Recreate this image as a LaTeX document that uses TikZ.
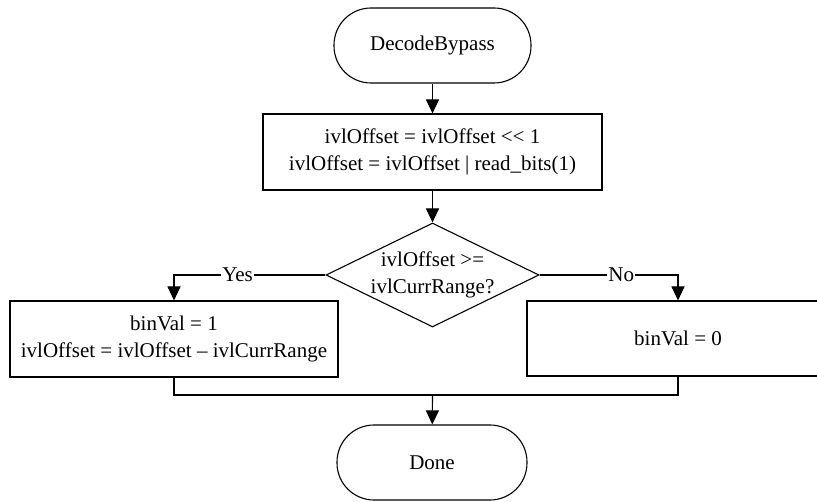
\documentclass[tikz,border=0pt]{standalone}
\usepackage{fontspec}
\setmainfont{Liberation Serif}
\usetikzlibrary{arrows.meta,shapes.geometric}
\begin{document}
\begin{tikzpicture}[x=1pt,y=-1pt,
  every node/.style={font=\fontsize{21}{27}\selectfont},
  base/.style={draw,line width=1.1pt,inner sep=0pt,align=center},
  term/.style={base,rectangle,rounded corners=37pt,minimum height=75pt},
  proc/.style={base,rectangle},
  dmd/.style={base,diamond,minimum width=213pt,minimum height=104pt},
  conn/.style={line width=1.1pt},
  arr/.style={conn,-{Triangle[length=14pt,width=13pt]}},
  lbl/.style={fill=white,inner sep=1pt}]
\useasboundingbox (0,0) rectangle (817,502);
\clip (0,0) rectangle (817,502);
\node[term,minimum width=197pt] (start) at (432.5,45.5) {DecodeBypass};
\node[proc,minimum width=339pt,minimum height=76pt] (init) at (432.5,152)
  {ivlOffset = ivlOffset <{}< 1\\ivlOffset = ivlOffset | read\_bits(1)};
\node[dmd] (dec) at (432.5,275) {};
\node[align=center,inner sep=0pt] (dectext) at (432.5,275) {ivlOffset >=\\ivlCurrRange?};
\node[proc,minimum width=328pt,minimum height=76pt] (yesbox) at (174,339)
  {binVal = 1\\ivlOffset = ivlOffset -- ivlCurrRange};
\node[proc,minimum width=302pt,minimum height=75pt] (nobox) at (678,338.5) {binVal = 0};
\node[term,minimum width=190pt] (done) at (432,462.5) {Done};
\coordinate (join) at (432.5,395);
\draw[arr] (start) -- (init);
\draw[arr] (init) -- (dec);
\draw[arr] (dec.west) -| node[lbl,pos=0.29] {Yes} (yesbox.north);
\draw[arr] (dec.east) -| node[lbl,pos=0.295] {No} (nobox.north);
\draw[conn] (yesbox.south) |- (nobox.south |- join) -- (nobox.south);
\draw[arr] (join) -- (done);
\end{tikzpicture}
\end{document}
